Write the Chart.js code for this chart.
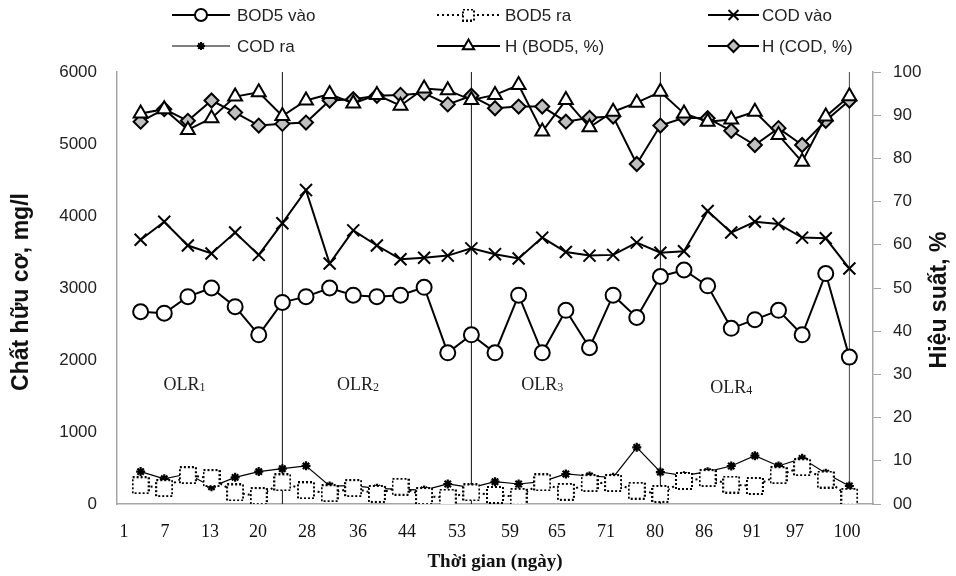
<!DOCTYPE html>
<html>
<head>
<meta charset="utf-8">
<script src="https://cdn.jsdelivr.net/npm/chart.js@4.4.1/dist/chart.umd.min.js"></script>
<style>
  html, body { margin: 0; padding: 0; background: #fff; }
  #wrap { width: 956px; height: 576px; }
</style>
</head>
<body>
<div id="wrap"><canvas id="chart" width="956" height="576"></canvas></div>
<script>
// x tick labels (days) and where they sit along the sample index axis
const xLabels = ["1", "7", "13", "20", "28", "36", "44", "53", "59", "65", "71", "80", "86", "91", "97", "100"];
const xTickPos = [-0.7, 1.03, 2.94, 4.97, 7.04, 9.2, 11.28, 13.39, 15.63, 17.62, 19.7, 21.77, 23.85, 25.88, 27.7, 29.9];
const rightTickLabels = ["00", "10", "20", "30", "40", "50", "60", "70", "80", "90", "100"];

// mg/l
const bod5In = [2670, 2650, 2880, 3000, 2740, 2350, 2800, 2880, 3000, 2900, 2880, 2900, 3010, 2100, 2350, 2100,
  2900, 2100, 2690, 2170, 2900, 2590, 3160, 3250, 3030, 2440, 2560, 2690, 2350, 3200, 2040];
const bod5Out = [260, 220, 400, 360, 160, 110, 300, 190, 150, 220, 140, 240, 110, 90, 160, 125,
  100, 300, 170, 290, 290, 185, 140, 320, 360, 270, 250, 400, 510, 340, 100];
const codIn = [3670, 3920, 3590, 3480, 3770, 3460, 3900, 4360, 3340, 3800, 3590, 3400, 3420, 3450, 3550, 3470,
  3410, 3700, 3500, 3450, 3460, 3630, 3490, 3510, 4070, 3770, 3920, 3890, 3700, 3690, 3270];
const codOut = [450, 350, 420, 240, 370, 450, 490, 530, 250, 255, 218, 204, 194, 278, 227, 310,
  278, 310, 417, 389, 370, 787, 444, 394, 449, 528, 671, 528, 634, 426, 250];
// %
const hBod5 = [90.4, 91.4, 86.6, 89.3, 94.3, 95.3, 89.8, 93.4, 94.9, 92.7, 94.7, 92.2, 96.2, 95.8, 93.5, 94.7,
  97.0, 86.2, 93.5, 87.2, 90.8, 92.9, 95.4, 90.4, 88.5, 89.0, 90.8, 85.4, 79.2, 89.7, 94.4];
const hCod = [88.5, 91.4, 88.7, 93.4, 90.6, 87.6, 88.0, 88.3, 93.4, 93.7, 94.5, 94.7, 95.1, 92.5, 94.5, 91.6,
  92.0, 92.0, 88.5, 89.4, 89.7, 78.7, 87.6, 89.4, 89.3, 86.4, 83.1, 87.0, 83.1, 88.7, 93.4];

// last sample of each loading phase
const phaseEnds = [6, 14, 22, 30];
const phaseNames = ["1", "2", "3", "4"];

const toXY = (arr) => arr.map((v, i) => ({ x: i, y: v }));

// dotted square marker for BOD5 ra
function dottedSquare(size) {
  const c = document.createElement("canvas");
  c.width = size; c.height = size;
  const g = c.getContext("2d");
  g.fillStyle = "#fff";
  g.fillRect(1, 1, size - 2, size - 2);
  g.strokeStyle = "#000";
  g.lineWidth = 2;
  g.setLineDash([2, 2]);
  g.strokeRect(1, 1, size - 2, size - 2);
  return c;
}
const sqBig = dottedSquare(18);
const sqSmall = dottedSquare(13);

const styles = {
  bod5In: { pointStyle: "circle", pointRadius: 7.5, pointBackgroundColor: "#fff", borderWidth: 2 },
  bod5Out: { pointStyle: sqBig, borderWidth: 2, borderDash: [2, 3] },
  codIn: { pointStyle: "crossRot", pointRadius: 8.5, pointBorderWidth: 2, borderWidth: 2 },
  codOut: { pointStyle: "star", pointRadius: 4.5, pointBorderWidth: 2.2, borderWidth: 1.2 },
  hBod5: { pointStyle: "triangle", pointRadius: 8, pointBackgroundColor: "#fff", borderWidth: 2 },
  hCod: { pointStyle: "rectRot", pointRadius: 7, pointBackgroundColor: "#bfbfbf", borderWidth: 2 }
};

const datasets = [
  Object.assign({ label: "BOD5 vào", data: toXY(bod5In), yAxisID: "y" }, styles.bod5In),
  Object.assign({ label: "BOD5 ra", data: toXY(bod5Out), yAxisID: "y" }, styles.bod5Out),
  Object.assign({ label: "COD vào", data: toXY(codIn), yAxisID: "y" }, styles.codIn),
  Object.assign({ label: "COD ra", data: toXY(codOut), yAxisID: "y" }, styles.codOut),
  Object.assign({ label: "H (BOD5, %)", data: toXY(hBod5), yAxisID: "y2" }, styles.hBod5),
  Object.assign({ label: "H (COD, %)", data: toXY(hCod), yAxisID: "y2" }, styles.hCod)
];
datasets.forEach((d) => {
  d.borderColor = "#000";
  d.pointBorderColor = "#000";
  d.tension = 0;
});

// phase separator lines
phaseEnds.forEach((k, i) => {
  datasets.push({
    label: "sep" + i,
    data: [{ x: k, y: 0 }, { x: k, y: 6000 }],
    yAxisID: "y",
    borderColor: i === 3 ? "#444" : "#111",
    borderWidth: 1,
    pointRadius: 0,
    order: 10
  });
});

const legendItems = [
  { text: "BOD5 vào", col: 0, row: 0, style: styles.bod5In, marker: { pointStyle: "circle", radius: 6, fill: "#fff" } },
  { text: "BOD5 ra", col: 1, row: 0, style: styles.bod5Out, marker: { pointStyle: sqSmall } },
  { text: "COD vào", col: 2, row: 0, style: styles.codIn, marker: { pointStyle: "crossRot", radius: 7 } },
  { text: "COD ra", col: 0, row: 1, style: { borderWidth: 1 }, marker: { pointStyle: "star", radius: 4 } },
  { text: "H (BOD5, %)", col: 1, row: 1, style: styles.hBod5, marker: { pointStyle: "triangle", radius: 6.5, fill: "#fff" } },
  { text: "H (COD, %)", col: 2, row: 1, style: styles.hCod, marker: { pointStyle: "rectRot", radius: 6, fill: "#bfbfbf" } }
];

const overlay = {
  id: "overlay",
  afterDraw(chart) {
    const ctx = chart.ctx;
    const xs = chart.scales.x, ys = chart.scales.y;
    ctx.save();
    // legend
    const cols = [[172, 230, 237], [437, 500, 505], [708, 759, 762]];
    const rows = [15, 46];
    ctx.font = "17px 'Liberation Sans', Arial, sans-serif";
    ctx.textBaseline = "middle";
    legendItems.forEach((it) => {
      const [x0, x1, tx] = cols[it.col];
      const y = rows[it.row];
      ctx.strokeStyle = "#000";
      ctx.lineWidth = it.style.borderWidth || 2;
      ctx.setLineDash(it.style.borderDash || []);
      ctx.beginPath(); ctx.moveTo(x0, y); ctx.lineTo(x1, y); ctx.stroke();
      ctx.setLineDash([]);
      ctx.fillStyle = it.marker.fill || "#000";
      ctx.lineWidth = 2;
      Chart.helpers.drawPoint(ctx, { pointStyle: it.marker.pointStyle, radius: it.marker.radius || 6, rotation: 0, borderWidth: 2 }, (x0 + x1) / 2, y);
      ctx.fillStyle = "#222";
      ctx.textAlign = "left";
      ctx.fillText(it.text, tx, y + 1);
    });

    // phase labels
    const olrAt = [[1.86, 1650], [9.2, 1650], [17.0, 1650], [25.0, 1610]];
    ctx.fillStyle = "#222";
    olrAt.forEach((p, i) => {
      const cx = xs.getPixelForValue(p[0]);
      const cy = ys.getPixelForValue(p[1]);
      ctx.font = "18px 'Liberation Serif', 'Times New Roman', serif";
      const w1 = ctx.measureText("OLR").width;
      ctx.font = "12px 'Liberation Serif', 'Times New Roman', serif";
      const w2 = ctx.measureText(phaseNames[i]).width;
      const left = cx - (w1 + w2) / 2;
      ctx.textAlign = "left";
      ctx.font = "18px 'Liberation Serif', 'Times New Roman', serif";
      ctx.fillText("OLR", left, cy);
      ctx.font = "12px 'Liberation Serif', 'Times New Roman', serif";
      ctx.fillText(phaseNames[i], left + w1, cy + 3);
    });

    // axis titles
    ctx.fillStyle = "#111";
    ctx.textAlign = "center";
    ctx.font = "bold 23px 'Liberation Sans', Arial, sans-serif";
    ctx.save();
    ctx.translate(22, 292);
    ctx.rotate(-Math.PI / 2);
    ctx.fillText("Chất hữu cơ, mg/l", 0, 0);
    ctx.restore();
    ctx.save();
    ctx.translate(940, 300);
    ctx.rotate(-Math.PI / 2);
    ctx.fillText("Hiệu suất, %", 0, 0);
    ctx.restore();
    ctx.font = "bold 19px 'Liberation Serif', 'Times New Roman', serif";
    ctx.fillText("Thời gian (ngày)", 495, 562);
    ctx.restore();
  }
};

new Chart(document.getElementById("chart"), {
  type: "line",
  data: { datasets: datasets },
  options: {
    responsive: false,
    animation: false,
    devicePixelRatio: 1,
    layout: { padding: { top: 72, left: 0, right: 0, bottom: 0 } },
    plugins: { legend: { display: false }, tooltip: { enabled: false } },
    scales: {
      x: {
        type: "linear",
        min: -1,
        max: 31,
        grid: { display: false, drawTicks: false },
        border: { color: "#a6a6a6", width: 1.5 },
        afterBuildTicks: (s) => { s.ticks = xTickPos.map((v) => ({ value: v })); },
        afterFit: (s) => { s.height = 72; },
        ticks: {
          autoSkip: false,
          maxRotation: 0,
          padding: 17,
          color: "#111",
          font: { family: "'Liberation Serif', 'Times New Roman', serif", size: 18 },
          callback: (v, i) => xLabels[i]
        }
      },
      y: {
        position: "left",
        min: 0,
        max: 6000,
        grid: { display: false, drawTicks: false },
        border: { color: "#a6a6a6", width: 1.5 },
        afterFit: (s) => { s.width = 117; },
        ticks: {
          stepSize: 1000,
          padding: 20,
          color: "#222",
          font: { family: "'Liberation Sans', Arial, sans-serif", size: 17 },
          callback: (v) => String(v)
        }
      },
      y2: {
        position: "right",
        min: 0,
        max: 100,
        grid: { display: true, drawOnChartArea: false, drawTicks: true, tickLength: 8, color: "#a6a6a6" },
        border: { color: "#a6a6a6", width: 1.5 },
        afterFit: (s) => { s.width = 83; },
        ticks: {
          stepSize: 10,
          padding: 12,
          color: "#222",
          font: { family: "'Liberation Sans', Arial, sans-serif", size: 17 },
          callback: (v, i) => rightTickLabels[i]
        }
      }
    }
  },
  plugins: [overlay]
});
</script>
</body>
</html>
